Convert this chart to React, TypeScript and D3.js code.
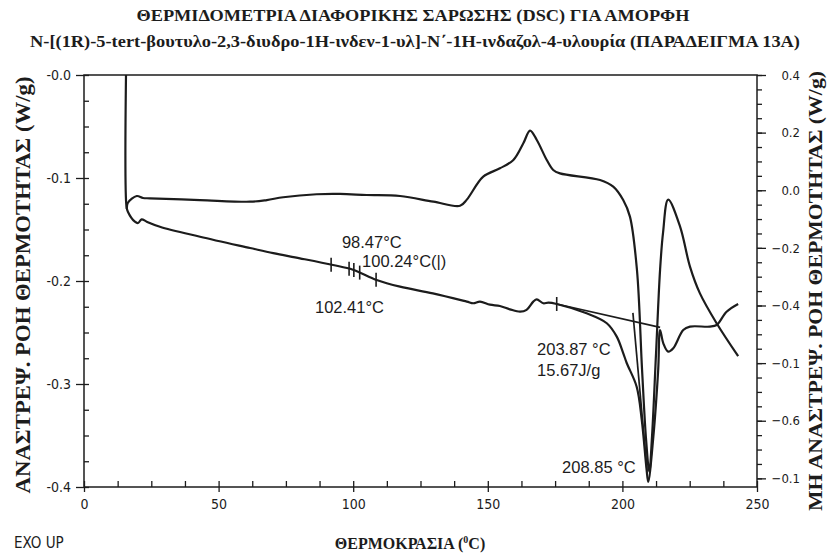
import { useEffect, useRef } from 'react';
import * as d3 from 'd3';

// reversing heat flow (lower trace), temperature in °C, flow in W/g
const revTemp = [
  15.6, 15.8, 16.3, 18.9, 20.1, 21.4, 23.3, 28.2, 43.1, 61.7, 70.3, 80.2, 92.5, 99.9, 108.7, 117.4,
  129.6, 142.2, 144.6, 147.1, 150.8, 154.5, 158.2, 162, 164.4, 166.9, 168.2, 170.6, 172.5, 175.6,
  186.7, 194.2, 197.9, 200.3, 201.6, 205.3, 207.2, 209, 209.6, 211.5, 213.3, 214, 215.2, 217, 218.9,
  222.6, 225.1, 232.5, 235, 238.7, 243,
];
const revFlow = [
  0.0, -0.128, -0.1327, -0.1424, -0.1437, -0.1401, -0.1424, -0.1473, -0.157, -0.168, -0.173, -0.178,
  -0.1845, -0.189, -0.199, -0.2055, -0.212, -0.22, -0.2216, -0.22, -0.223, -0.2243, -0.2275, -0.2298,
  -0.228, -0.22, -0.2178, -0.2216, -0.221, -0.2223, -0.2314, -0.241, -0.254, -0.27, -0.2796, -0.3026,
  -0.335, -0.3835, -0.395, -0.351, -0.286, -0.2476, -0.2605, -0.2686, -0.2653, -0.2476, -0.2443,
  -0.2443, -0.2427, -0.2298, -0.2223,
];

// non-reversing heat flow (upper trace)
const nonRevTemp = [
  15.9, 16.3, 19.6, 21.9, 24.5, 43.1, 61.7, 67.9, 74, 86.4, 95.1, 105, 117.4, 129.8, 139.7, 142.2,
  148.3, 154.5, 159.5, 163.2, 165.7, 168.2, 171.9, 174.3, 176.8, 191.7, 196.6, 200.3, 202.8, 205.4,
  207.3, 208.8, 210, 211, 212.5, 214, 215.1, 217, 221.4, 225.1, 228.8, 235, 243,
];
const nonRevFlow = [
  -0.13, -0.124, -0.1175, -0.1194, -0.1197, -0.1214, -0.123, -0.1214, -0.1187, -0.1158, -0.1155,
  -0.1165, -0.1175, -0.123, -0.127, -0.121, -0.0987, -0.0906, -0.0825, -0.0663, -0.054, -0.0631,
  -0.0825, -0.0922, -0.0955, -0.102, -0.1084, -0.1214, -0.1375, -0.189, -0.286, -0.354, -0.385,
  -0.351, -0.27, -0.189, -0.153, -0.121, -0.147, -0.186, -0.212, -0.241, -0.273,
];

// integration baseline and onset tangent of the melting peak
const baseTemp = [175.6, 214];
const baseFlow = [-0.2223, -0.245];
const onsetTemp = [203.9, 209.2];
const onsetFlow = [-0.231, -0.385];

// glass transition / integration limit markers on the reversing trace
const markTemp = [91.8, 98.47, 100.24, 102.41, 108.5, 175.6];

const xTicks = [0, 50, 100, 150, 200, 250];
const yTicks = [0, -0.1, -0.2, -0.3, -0.4];
const yTickLabels = ['-0.0', '-0.1', '-0.2', '-0.3', '-0.4'];
const rightTicks = [0.4, 0.2, 0.0, -0.2, -0.4, -0.6, -0.8, -1.0];
const rightTickLabels = ['0.4', '0.2', '0.0', '−0.2', '−0.4', '−0.1', '−0.6', '−0.1'];

const notes = [
  { text: '98.47°C', t: 95.8, v: -0.168 },
  { text: '100.24°C(|)', t: 103.3, v: -0.186 },
  { text: '102.41°C', t: 85.8, v: -0.231 },
  { text: '203.87 °C', t: 168.3, v: -0.272 },
  { text: '15.67J/g', t: 168.3, v: -0.292 },
  { text: '208.85 °C', t: 177.6, v: -0.386 },
];

const TITLE_1 = 'ΘΕΡΜΙΔΟΜΕΤΡΙΑ ΔΙΑΦΟΡΙΚΗΣ ΣΑΡΩΣΗΣ (DSC) ΓΙΑ ΑΜΟΡΦΗ';
const TITLE_2 =
  'N-[(1R)-5-tert-βουτυλο-2,3-διυδρο-1Η-ινδεν-1-υλ]-Ν΄-1Η-ινδαζολ-4-υλουρία (ΠΑΡΑΔΕΙΓΜΑ 13Α)';

const INK = '#1c1c1c';
const SERIF = "'Liberation Serif', 'Times New Roman', serif";
const SANS = "'DejaVu Sans Condensed', 'Liberation Sans Narrow', 'Liberation Sans', sans-serif";
const SANS_WIDE = "'Liberation Sans', Arial, sans-serif";

const App = () => {
  const svgRef = useRef<SVGSVGElement>(null);

  useEffect(() => {
    if (!svgRef.current) return;
    const width = 827;
    const height = 555;
    const left = 84;
    const right = 757;
    const top = 75;
    const bottom = 487;

    const svg = d3.select(svgRef.current).attr('width', width).attr('height', height);
    svg.selectAll('*').remove();

    const x = d3.scaleLinear().domain([0, 250]).range([left, right]);
    const y = d3.scaleLinear().domain([0, -0.4]).range([top, bottom]);
    const yRight = d3.scaleLinear().domain([0.4, -1.03]).range([top, bottom]);

    // frame
    svg
      .append('rect')
      .attr('x', left)
      .attr('y', top)
      .attr('width', right - left)
      .attr('height', bottom - top)
      .attr('fill', 'none')
      .attr('stroke', INK)
      .attr('stroke-width', 1.5);

    const styleAxis = (g: d3.Selection<SVGGElement, unknown, null, undefined>) => {
      g.select('.domain').remove();
      g.selectAll('line').attr('stroke', INK).attr('stroke-width', 1.3);
      g.selectAll('text').attr('fill', INK).attr('font-family', SANS).attr('font-size', 14);
    };

    // bottom axis
    svg
      .append('g')
      .attr('transform', `translate(0, ${bottom})`)
      .call(d3.axisBottom(x).tickValues(d3.range(0, 250.1, 12.5)).tickSize(-6).tickFormat(() => ''))
      .call(styleAxis);
    svg
      .append('g')
      .attr('transform', `translate(0, ${bottom})`)
      .call(d3.axisBottom(x).tickValues(xTicks).tickSize(5).tickPadding(7).tickFormat(d3.format('d')))
      .call(styleAxis);

    // left axis
    svg
      .append('g')
      .attr('transform', `translate(${left}, 0)`)
      .call(d3.axisLeft(y).tickValues(d3.range(0, -0.4001, -0.025)).tickSize(-5).tickFormat(() => ''))
      .call(styleAxis);
    svg
      .append('g')
      .attr('transform', `translate(${left}, 0)`)
      .call(
        d3
          .axisLeft(y)
          .tickValues(yTicks)
          .tickSize(8)
          .tickPadding(5)
          .tickFormat((_, i) => yTickLabels[i])
      )
      .call(styleAxis);

    // right axis
    svg
      .append('g')
      .attr('transform', `translate(${right}, 0)`)
      .call(d3.axisRight(yRight).tickValues(d3.range(0.4, -1.0001, -0.05)).tickSize(5).tickFormat(() => ''))
      .call(styleAxis);
    const rightAxis = svg
      .append('g')
      .attr('transform', `translate(${right}, 0)`)
      .call(
        d3
          .axisRight(yRight)
          .tickValues(rightTicks)
          .tickSize(9)
          .tickPadding(34)
          .tickFormat((_, i) => rightTickLabels[i])
      )
      .call(styleAxis);
    rightAxis.selectAll('text').attr('text-anchor', 'end').attr('font-size', 13);

    // traces
    const line = d3
      .line<[number, number]>()
      .x((d) => x(d[0]))
      .y((d) => y(d[1]))
      .curve(d3.curveCatmullRom.alpha(0.5));
    const straight = d3
      .line<[number, number]>()
      .x((d) => x(d[0]))
      .y((d) => y(d[1]));

    const revData = revTemp.map((t, i) => [t, revFlow[i]] as [number, number]);
    const nonRevData = nonRevTemp.map((t, i) => [t, nonRevFlow[i]] as [number, number]);

    const paths: [string, [number, number][], typeof line][] = [
      ['rev', revData, line],
      ['nonrev', nonRevData, line],
      ['base', baseTemp.map((t, i) => [t, baseFlow[i]] as [number, number]), straight],
      ['onset', onsetTemp.map((t, i) => [t, onsetFlow[i]] as [number, number]), straight],
    ];
    paths.forEach(([key, data, gen]) => {
      svg
        .append('path')
        .attr('class', key)
        .attr('d', gen(data))
        .attr('fill', 'none')
        .attr('stroke', INK)
        .attr('stroke-width', key === 'rev' || key === 'nonrev' ? 2.2 : 1.7)
        .attr('stroke-linejoin', 'round');
    });

    // short markers crossing the reversing trace
    const revAt = (t: number) => {
      const i = d3.bisector((d: [number, number]) => d[0]).left(revData, t);
      const a = revData[Math.max(0, i - 1)];
      const b = revData[Math.min(revData.length - 1, i)];
      const k = b[0] === a[0] ? 0 : (t - a[0]) / (b[0] - a[0]);
      return a[1] + (b[1] - a[1]) * k;
    };
    svg
      .selectAll('.mark')
      .data(markTemp)
      .join('line')
      .attr('class', 'mark')
      .attr('x1', (d) => x(d))
      .attr('x2', (d) => x(d))
      .attr('y1', (d) => y(revAt(d)) - 7)
      .attr('y2', (d) => y(revAt(d)) + 7)
      .attr('stroke', INK)
      .attr('stroke-width', 1.6);

    // annotations
    svg
      .selectAll('.note')
      .data(notes)
      .join('text')
      .attr('class', 'note')
      .attr('x', (d) => x(d.t))
      .attr('y', (d) => y(d.v))
      .attr('font-family', SANS_WIDE)
      .attr('font-size', 16.5)
      .attr('fill', INK)
      .text((d) => d.text);

    // titles
    const bold = (sel: d3.Selection<SVGTextElement, unknown, null, undefined>) =>
      sel.attr('font-family', SERIF).attr('font-weight', 'bold').attr('fill', INK);

    svg
      .append('text')
      .attr('x', 413)
      .attr('y', 21)
      .attr('text-anchor', 'middle')
      .attr('font-size', 16.5)
      .attr('textLength', 553)
      .attr('lengthAdjust', 'spacingAndGlyphs')
      .call(bold)
      .text(TITLE_1);
    svg
      .append('text')
      .attr('x', 415)
      .attr('y', 47)
      .attr('text-anchor', 'middle')
      .attr('font-size', 16.5)
      .attr('textLength', 770)
      .attr('lengthAdjust', 'spacingAndGlyphs')
      .call(bold)
      .text(TITLE_2);

    svg
      .append('text')
      .attr('transform', `translate(30, ${(top + bottom) / 2 + 4}) rotate(-90)`)
      .attr('text-anchor', 'middle')
      .attr('font-size', 20)
      .attr('textLength', 417)
      .attr('lengthAdjust', 'spacingAndGlyphs')
      .call(bold)
      .text('ΑΝΑΣΤΡΕΨ. ΡΟΗ ΘΕΡΜΟΤΗΤΑΣ (W/g)');
    svg
      .append('text')
      .attr('transform', `translate(822, 291) rotate(-90)`)
      .attr('text-anchor', 'middle')
      .attr('font-size', 19)
      .attr('textLength', 440)
      .attr('lengthAdjust', 'spacingAndGlyphs')
      .call(bold)
      .text('ΜΗ ΑΝΑΣΤΡΕΨ. ΡΟΗ ΘΕΡΜΟΤΗΤΑΣ (W/g)');

    const xTitle = svg
      .append('text')
      .attr('x', 410)
      .attr('y', 549)
      .attr('text-anchor', 'middle')
      .attr('font-size', 16)
      .call(bold);
    xTitle.append('tspan').text('ΘΕΡΜΟΚΡΑΣΙΑ (');
    xTitle.append('tspan').attr('font-size', 10).attr('dy', -6).text('0');
    xTitle.append('tspan').attr('dy', 6).text('C)');

    svg
      .append('text')
      .attr('x', 14)
      .attr('y', 548)
      .attr('font-family', SANS)
      .attr('font-size', 15)
      .attr('fill', INK)
      .text('EXO  UP');
  }, []);

  return <svg ref={svgRef} style={{ position: 'absolute', left: 0, top: 0, background: '#fff' }} />;
};

export default App;
